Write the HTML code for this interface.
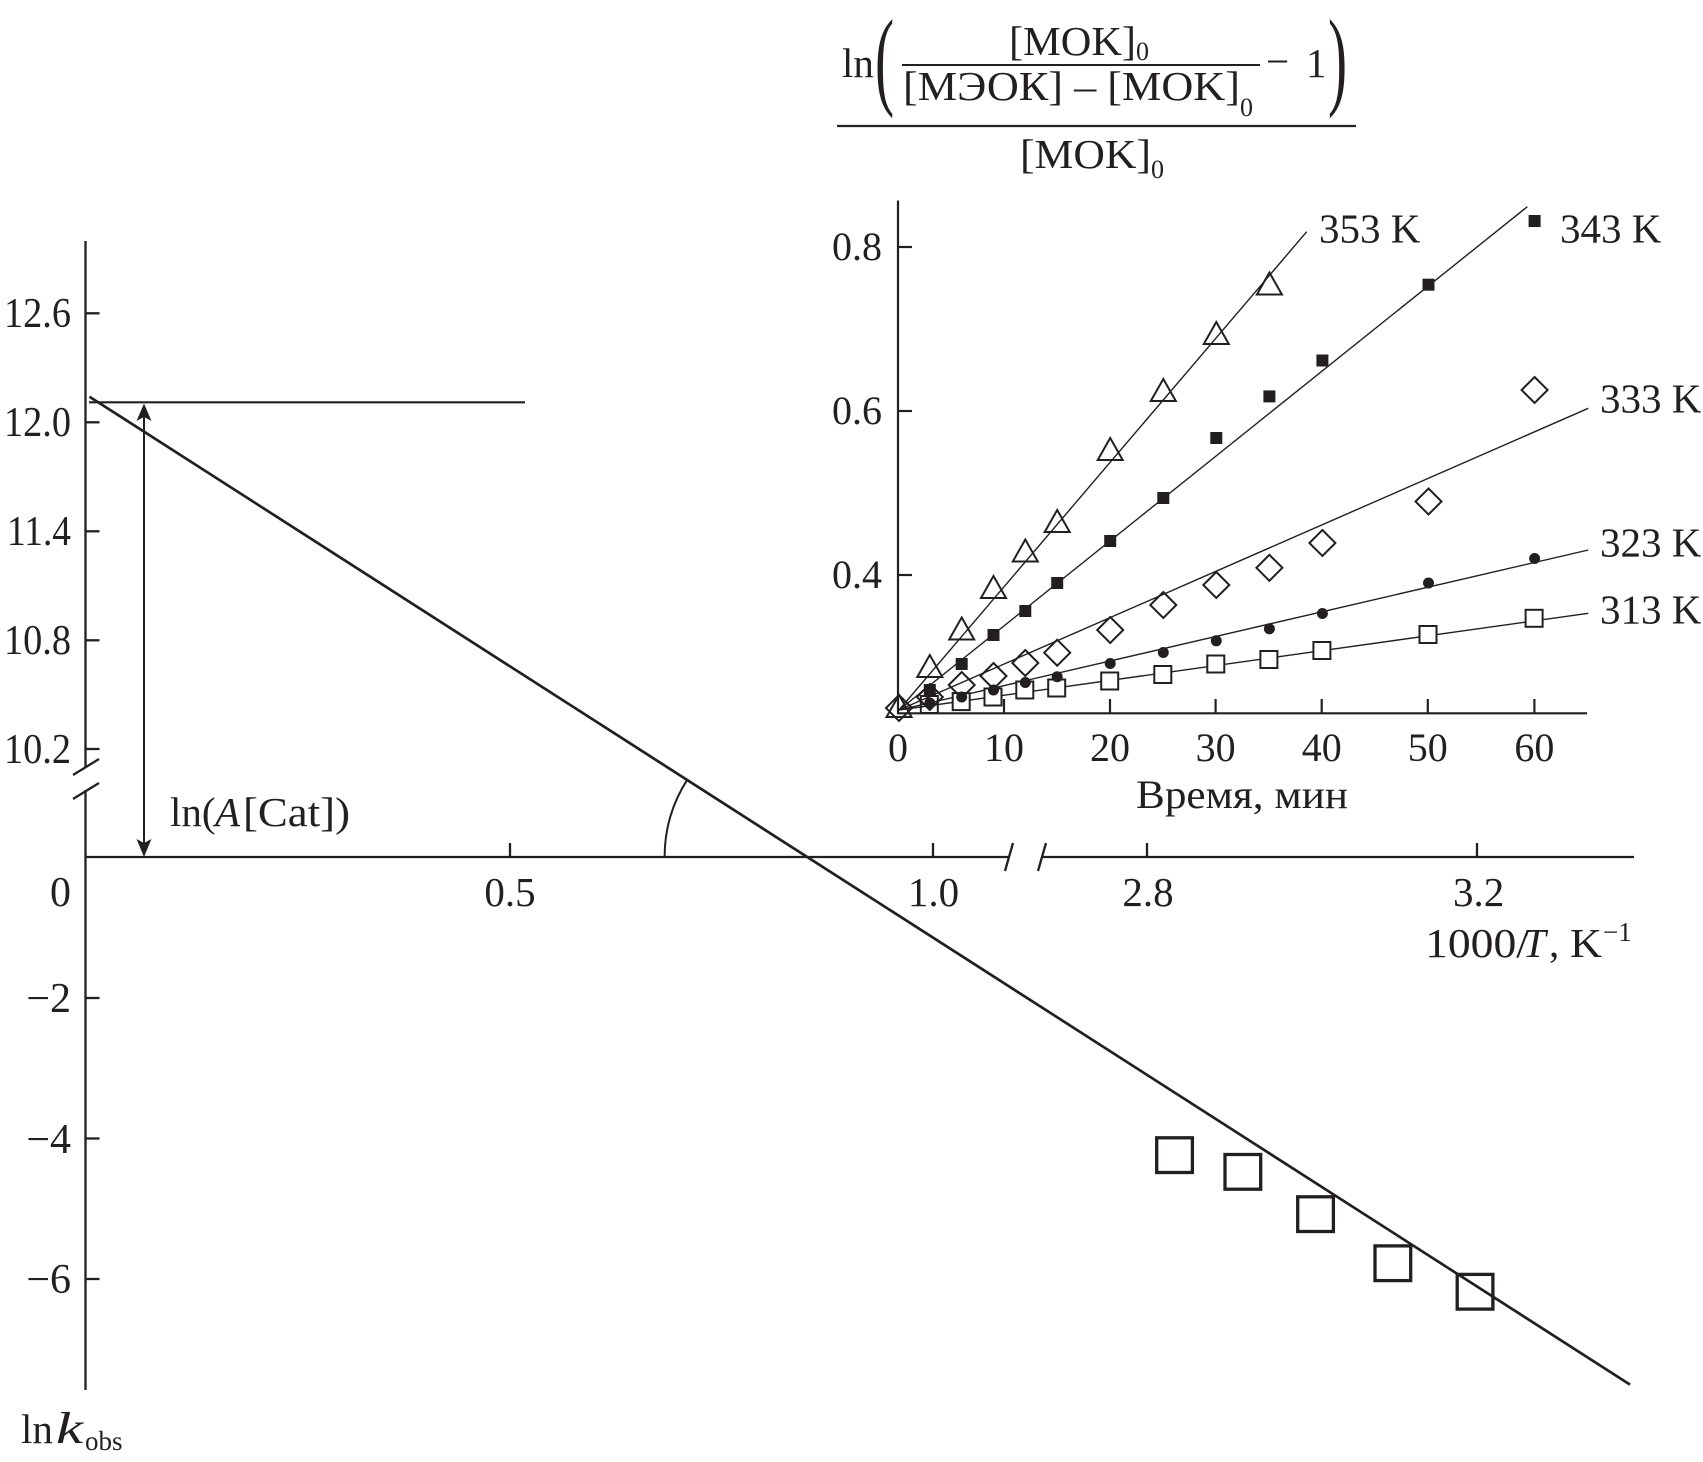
<!DOCTYPE html>
<html><head><meta charset="utf-8">
<style>
html,body{margin:0;padding:0;background:#fff;}
svg{display:block;}
text{font-family:"Liberation Serif","DejaVu Serif",serif;fill:#231f20;}
</style></head>
<body>
<svg width="1703" height="1462" viewBox="0 0 1703 1462" xmlns="http://www.w3.org/2000/svg">
<rect width="1703" height="1462" fill="#fff"/>

<!-- ===== MAIN CHART ===== -->
<g stroke="#231f20" fill="none" stroke-width="2.3">
  <line x1="85.5" y1="241" x2="85.5" y2="767"/>
  <line x1="85.5" y1="790" x2="85.5" y2="1390"/>
  <line x1="85.5" y1="313.3" x2="99.5" y2="313.3"/>
  <line x1="85.5" y1="422.3" x2="99.5" y2="422.3"/>
  <line x1="85.5" y1="531.3" x2="99.5" y2="531.3"/>
  <line x1="85.5" y1="640.3" x2="99.5" y2="640.3"/>
  <line x1="85.5" y1="749" x2="99.5" y2="749"/>
  <line x1="85.5" y1="998" x2="99.5" y2="998"/>
  <line x1="85.5" y1="1138.5" x2="99.5" y2="1138.5"/>
  <line x1="85.5" y1="1279" x2="99.5" y2="1279"/>
  <line x1="73" y1="775" x2="99" y2="759"/>
  <line x1="73" y1="799" x2="99" y2="783"/>
  <line x1="85.5" y1="857" x2="1009" y2="857"/>
  <line x1="1042" y1="857" x2="1634" y2="857"/>
  <line x1="510" y1="843" x2="510" y2="857"/>
  <line x1="933" y1="843" x2="933" y2="857"/>
  <line x1="1147" y1="843" x2="1147" y2="857"/>
  <line x1="1477" y1="843" x2="1477" y2="857"/>
  <line x1="1005" y1="871" x2="1013" y2="843"/>
  <line x1="1038" y1="871" x2="1046" y2="843"/>
  <line x1="89" y1="402.3" x2="525" y2="402.3" stroke-width="2.2"/>
  <line x1="144" y1="416" x2="144" y2="844" stroke-width="2"/>
  <path d="M 664.6 857 A 143 143 0 0 1 687.3 779.7" stroke-width="2"/>
  <line x1="89.5" y1="396.7" x2="1630" y2="1384.6" stroke-width="2.7"/>
  <g stroke-width="3.3">
    <rect x="1156.7" y="1137.8" width="35.7" height="34.7"/>
    <rect x="1225" y="1154.5" width="35.7" height="34.7"/>
    <rect x="1297.7" y="1196.8" width="35.7" height="34.7"/>
    <rect x="1375" y="1245.9" width="35.7" height="34.7"/>
    <rect x="1457.2" y="1274.4" width="35.7" height="34.7"/>
  </g>
</g>
<polygon points="144,403.5 136.5,421 144,417 151.5,421" fill="#231f20"/>
<polygon points="144,857 136.5,839 144,843 151.5,839" fill="#231f20"/>

<!-- main labels -->
<g font-size="42" text-anchor="end">
  <text x="71" y="327" textLength="67" lengthAdjust="spacingAndGlyphs">12.6</text>
  <text x="71" y="436" textLength="67" lengthAdjust="spacingAndGlyphs">12.0</text>
  <text x="71" y="545" textLength="64" lengthAdjust="spacingAndGlyphs">11.4</text>
  <text x="71" y="654" textLength="67" lengthAdjust="spacingAndGlyphs">10.8</text>
  <text x="71" y="763" textLength="67" lengthAdjust="spacingAndGlyphs">10.2</text>
  <text x="71" y="906">0</text>
  <text x="71" y="1012">−2</text>
  <text x="71" y="1153">−4</text>
  <text x="71" y="1293">−6</text>
</g>
<g font-size="41" text-anchor="middle">
  <text x="510" y="906">0.5</text>
  <text x="933.5" y="906">1.0</text>
  <text x="1148" y="906">2.8</text>
  <text x="1478.6" y="906">3.2</text>
</g>
<text font-size="41" y="957"><tspan x="1425" textLength="104" lengthAdjust="spacingAndGlyphs">1000/</tspan><tspan x="1523" font-style="italic">T</tspan><tspan x="1549">,</tspan><tspan x="1570" textLength="32" lengthAdjust="spacingAndGlyphs">K</tspan></text>
<text font-size="27" x="1603" y="941">−1</text>
<text font-size="41" x="170" y="826">ln(</text>
<text font-size="41" x="215" y="826" font-style="italic">A</text>
<text font-size="41" x="243" y="826" textLength="107" lengthAdjust="spacingAndGlyphs">[Cat])</text>
<text font-size="41" x="21" y="1443">ln</text>
<text font-size="44" x="56" y="1443" font-style="italic" textLength="27" lengthAdjust="spacingAndGlyphs">k</text>
<text font-size="27" x="85" y="1450">obs</text>

<!-- ===== INSET ===== -->
<g stroke="#231f20" fill="none" stroke-width="2.2">
  <line x1="898" y1="200.5" x2="898" y2="713.3"/>
  <line x1="897" y1="713.3" x2="1587" y2="713.3"/>
  <line x1="898" y1="247" x2="912" y2="247"/>
  <line x1="898" y1="411" x2="912" y2="411"/>
  <line x1="898" y1="575" x2="912" y2="575"/>
  <line x1="1004" y1="699" x2="1004" y2="713"/>
  <line x1="1110" y1="699" x2="1110" y2="713"/>
  <line x1="1215.6" y1="699" x2="1215.6" y2="713"/>
  <line x1="1321.7" y1="699" x2="1321.7" y2="713"/>
  <line x1="1427.8" y1="699" x2="1427.8" y2="713"/>
  <line x1="1534.4" y1="699" x2="1534.4" y2="713"/>
</g>
<g stroke="#231f20" fill="none" stroke-width="1.4">
  <line x1="899" y1="710" x2="1306.7" y2="231.7"/>
  <line x1="899" y1="710" x2="1527.3" y2="206.7"/>
  <line x1="899" y1="710" x2="1588.3" y2="408.3"/>
  <line x1="899" y1="710" x2="1588.3" y2="550"/>
  <line x1="899" y1="710" x2="1588.3" y2="613.3"/>
</g>

<!-- 313 K open squares -->
<g stroke="#231f20" fill="#fff" stroke-width="2">
  <rect x="920.8" y="696" width="17" height="17" fill="none"/>
  <rect x="952.7" y="693.1" width="17" height="17"/>
  <rect x="984.5" y="688.5" width="17" height="17"/>
  <rect x="1016.3" y="681.5" width="17" height="17"/>
  <rect x="1048.2" y="679.5" width="17" height="17"/>
  <rect x="1101.2" y="672.5" width="17" height="17"/>
  <rect x="1154.3" y="666" width="17" height="17"/>
  <rect x="1207.3" y="655.5" width="17" height="17"/>
  <rect x="1260.4" y="651" width="17" height="17"/>
  <rect x="1313.4" y="642" width="17" height="17"/>
  <rect x="1419.5" y="626" width="17" height="17"/>
  <rect x="1525.6" y="609.8" width="17" height="17"/>
</g>
<!-- 333 K diamonds -->
<g stroke="#231f20" fill="none" stroke-width="2">
  <polygon points="899,695 912,708 899,721 886,708"/>
  <polygon points="929.8,684 942.8,697 929.8,710 916.8,697"/>
  <polygon points="961.7,672 974.7,685 961.7,698 948.7,685"/>
  <polygon points="993.5,663 1006.5,676 993.5,689 980.5,676"/>
  <polygon points="1025.3,650 1038.3,663 1025.3,676 1012.3,663"/>
  <polygon points="1057.2,639.7 1070.2,652.7 1057.2,665.7 1044.2,652.7"/>
  <polygon points="1110.2,617 1123.2,630 1110.2,643 1097.2,630"/>
  <polygon points="1163.3,592 1176.3,605 1163.3,618 1150.3,605"/>
  <polygon points="1216.3,572 1229.3,585 1216.3,598 1203.3,585"/>
  <polygon points="1269.4,554.8 1282.4,567.8 1269.4,580.8 1256.4,567.8"/>
  <polygon points="1322.4,530 1335.4,543 1322.4,556 1309.4,543"/>
  <polygon points="1428.5,488.5 1441.5,501.5 1428.5,514.5 1415.5,501.5"/>
  <polygon points="1534.6,377 1547.6,390 1534.6,403 1521.6,390"/>
</g>
<!-- 353 K triangles -->
<g stroke="#231f20" fill="none" stroke-width="2">
  <polygon points="899,695 886.5,717 911.5,717"/>
  <polygon points="929.8,655 917.3,677 942.3,677"/>
  <polygon points="961.7,617.5 949.2,639.5 974.2,639.5"/>
  <polygon points="993.5,576 981,598 1006,598"/>
  <polygon points="1025.3,539.5 1012.8,561.5 1037.8,561.5"/>
  <polygon points="1057.2,510 1044.7,532 1069.7,532"/>
  <polygon points="1110.2,438 1097.7,460 1122.7,460"/>
  <polygon points="1163.3,379 1150.8,401 1175.8,401"/>
  <polygon points="1216.3,322 1203.8,344 1228.8,344"/>
  <polygon points="1269.4,272.5 1256.9,294.5 1281.9,294.5"/>
</g>
<!-- 343 K filled squares -->
<g fill="#231f20">
  <rect x="923.8" y="684" width="12" height="12"/>
  <rect x="955.7" y="658" width="12" height="12"/>
  <rect x="987.5" y="629" width="12" height="12"/>
  <rect x="1019.3" y="605" width="12" height="12"/>
  <rect x="1051.2" y="577" width="12" height="12"/>
  <rect x="1104.2" y="535" width="12" height="12"/>
  <rect x="1157.3" y="492" width="12" height="12"/>
  <rect x="1210.3" y="432" width="12" height="12"/>
  <rect x="1263.4" y="390.4" width="12" height="12"/>
  <rect x="1316.4" y="354.5" width="12" height="12"/>
  <rect x="1422.5" y="278.7" width="12" height="12"/>
  <rect x="1528.6" y="215" width="12" height="12"/>
</g>
<!-- 323 K dots -->
<g fill="#231f20">
  <circle cx="929.8" cy="703" r="5.5"/>
  <circle cx="961.7" cy="697" r="5.5"/>
  <circle cx="993.5" cy="690" r="5.5"/>
  <circle cx="1025.3" cy="682.5" r="5.5"/>
  <circle cx="1057.2" cy="676.7" r="5.5"/>
  <circle cx="1110.2" cy="663.5" r="5.5"/>
  <circle cx="1163.3" cy="652.5" r="5.5"/>
  <circle cx="1216.3" cy="640.8" r="5.5"/>
  <circle cx="1269.4" cy="628.8" r="5.5"/>
  <circle cx="1322.4" cy="613.5" r="5.5"/>
  <circle cx="1428.5" cy="583" r="5.5"/>
  <circle cx="1534.6" cy="558.5" r="5.5"/>
</g>

<!-- inset labels -->
<g font-size="40" text-anchor="end">
  <text x="882" y="260">0.8</text>
  <text x="882" y="424">0.6</text>
  <text x="882" y="588">0.4</text>
</g>
<g font-size="40" text-anchor="middle">
  <text x="898" y="761">0</text>
  <text x="1004" y="761">10</text>
  <text x="1110" y="761">20</text>
  <text x="1215.6" y="761">30</text>
  <text x="1321.7" y="761">40</text>
  <text x="1427.8" y="761">50</text>
  <text x="1534.4" y="761">60</text>
</g>
<text font-size="40" x="1136" y="808" textLength="212" lengthAdjust="spacingAndGlyphs">Время, мин</text>
<g font-size="41">
  <text x="1319" y="242.3">353 K</text>
  <text x="1560" y="242.3">343 K</text>
  <text x="1600" y="412.7">333 K</text>
  <text x="1600" y="556.7">323 K</text>
  <text x="1600" y="623.3">313 K</text>
</g>

<!-- formula -->
<text font-size="41" x="842" y="77">ln</text>
<text font-size="37" transform="translate(875,95) scale(1.55,2.95)">(</text>
<text font-size="37" transform="translate(1328,95) scale(1.55,2.95)">)</text>
<text font-size="41" x="1009" y="55" textLength="127" lengthAdjust="spacingAndGlyphs">[MOK]</text>
<text font-size="26" x="1136" y="60">0</text>
<line x1="902" y1="65" x2="1260" y2="65" stroke="#231f20" stroke-width="2"/>
<text font-size="41" x="903" y="100" textLength="337" lengthAdjust="spacingAndGlyphs">[МЭОК] – [MOK]</text>
<text font-size="26" x="1240" y="116">0</text>
<text font-size="41" x="1266" y="75">−</text>
<text font-size="41" x="1306" y="77">1</text>
<line x1="837" y1="126" x2="1356" y2="126" stroke="#231f20" stroke-width="2.2"/>
<text font-size="41" x="1020" y="168" textLength="131" lengthAdjust="spacingAndGlyphs">[MOK]</text>
<text font-size="26" x="1151" y="178">0</text>
</svg>
</body></html>
